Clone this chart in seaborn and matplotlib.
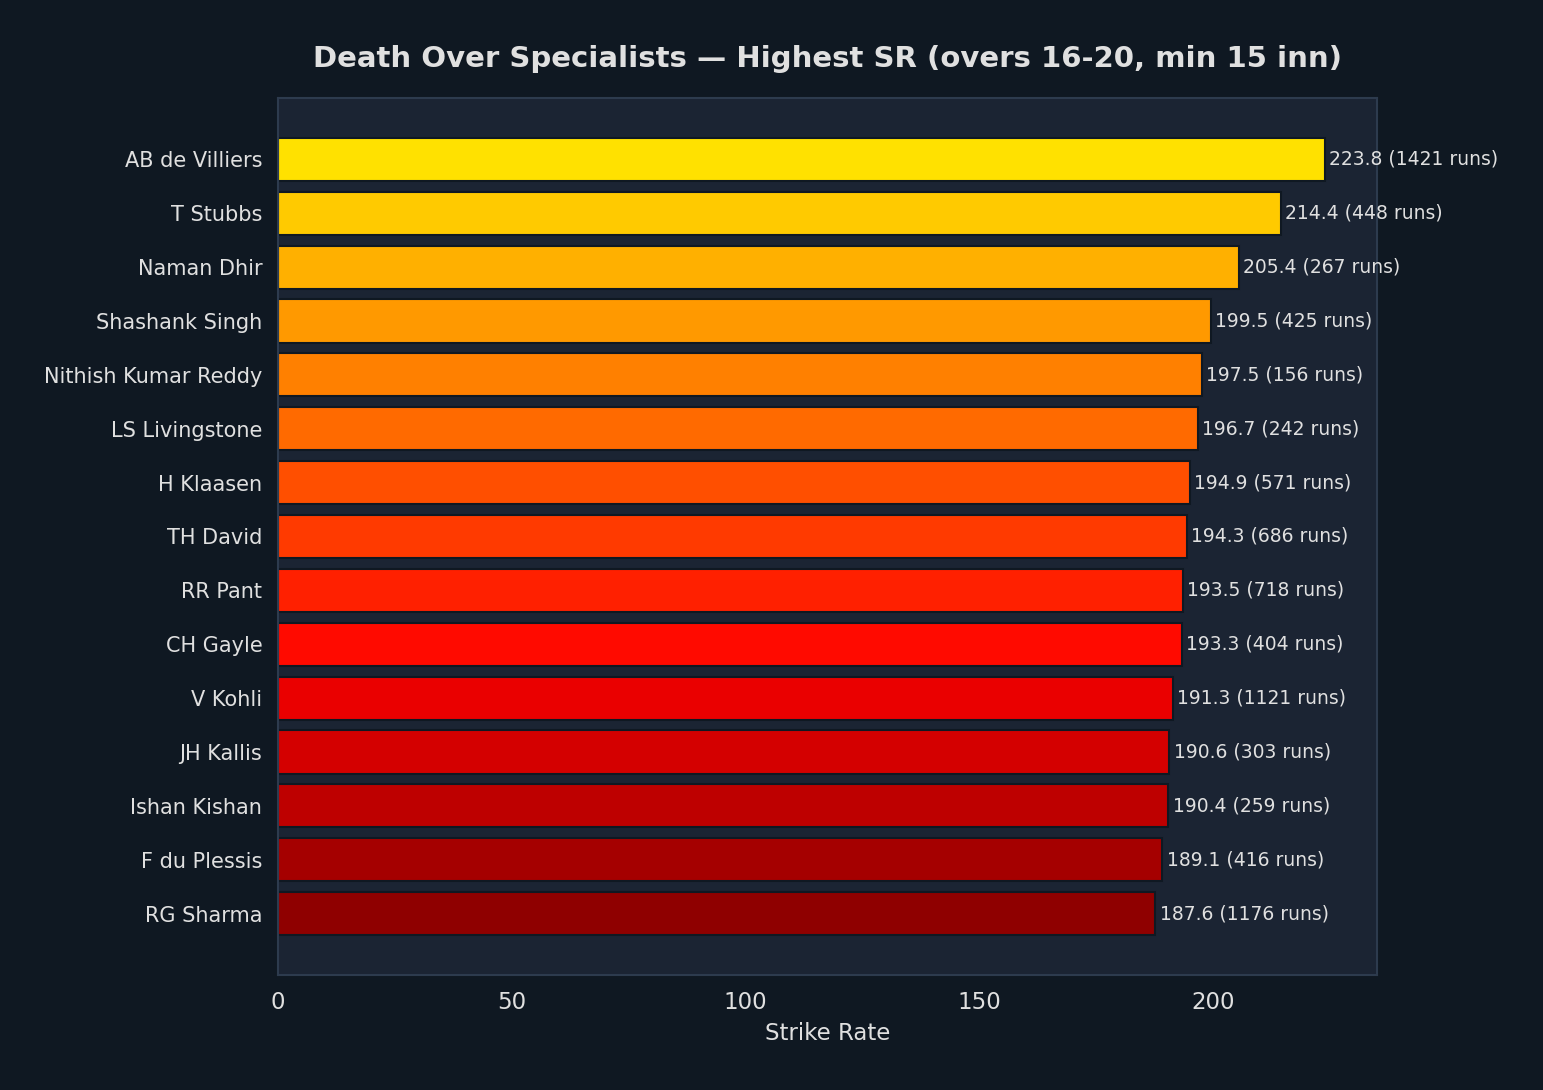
import matplotlib
matplotlib.use("Agg")
import matplotlib.pyplot as plt
import seaborn as sns
import pandas as pd

players = ["AB de Villiers", "T Stubbs", "Naman Dhir", "Shashank Singh", "Nithish Kumar Reddy",
           "LS Livingstone", "H Klaasen", "TH David", "RR Pant", "CH Gayle", "V Kohli",
           "JH Kallis", "Ishan Kishan", "F du Plessis", "RG Sharma"]
strike_rate = [223.8, 214.4, 205.4, 199.5, 197.5, 196.7, 194.9, 194.3, 193.5, 193.3,
               191.3, 190.6, 190.4, 189.1, 187.6]
runs = [1421, 448, 267, 425, 156, 242, 571, 686, 718, 404, 1121, 303, 259, 416, 1176]

bar_colors = ["#FFE100", "#FFCA00", "#FFB000", "#FF9900", "#FF8000", "#FF6A00", "#FF4F00",
              "#FF3A00", "#FF2000", "#FF0A00", "#EA0000", "#D40000", "#BE0000", "#A50000",
              "#8F0000"]

FIG_BG = "#0F1822"
AX_BG = "#1B2433"
TXT = "#E0E0E0"
SPINE = "#2D3B4E"

sns.set_style("dark")
plt.rcParams["font.family"] = ["DejaVu Sans"]

df = pd.DataFrame({"player": players, "sr": strike_rate, "runs": runs})

fig = plt.figure(figsize=(15.43 / 1.5, 10.90 / 1.5), dpi=150, facecolor=FIG_BG)
ax = fig.add_axes([278 / 1543, 1 - 975 / 1090, (1377 - 278) / 1543, (975 - 98) / 1090])
ax.set_facecolor(AX_BG)

sns.barplot(data=df, y="player", x="sr", hue="player", palette=bar_colors, legend=False,
            orient="h", width=0.8, saturation=1, edgecolor=FIG_BG, linewidth=1.0, ax=ax)

for i, (v, r) in enumerate(zip(strike_rate, runs)):
    ax.text(v + 0.9, i, f"{v:.1f} ({r} runs)", va="center", ha="left", color=TXT, fontsize=9)

ax.set_xlim(0, 223.8 * 1.05)
ax.set_ylim(len(players) - 1 + 1.14, -1.14)
ax.set_xlabel("Strike Rate", color=TXT, fontsize=11)
ax.set_ylabel("")
ax.set_title("Death Over Specialists \u2014 Highest SR (overs 16-20, min 15 inn)",
             color=TXT, fontsize=14, fontweight="bold", pad=15)
ax.tick_params(axis="x", colors=TXT, labelsize=11, length=4, width=1)
ax.tick_params(axis="y", colors=TXT, labelsize=10, length=4, width=1)
ax.grid(False)
for s in ax.spines.values():
    s.set_visible(True)
    s.set_color(SPINE)
    s.set_linewidth(1.0)

fig.savefig("out.png", dpi=150, facecolor=FIG_BG)
